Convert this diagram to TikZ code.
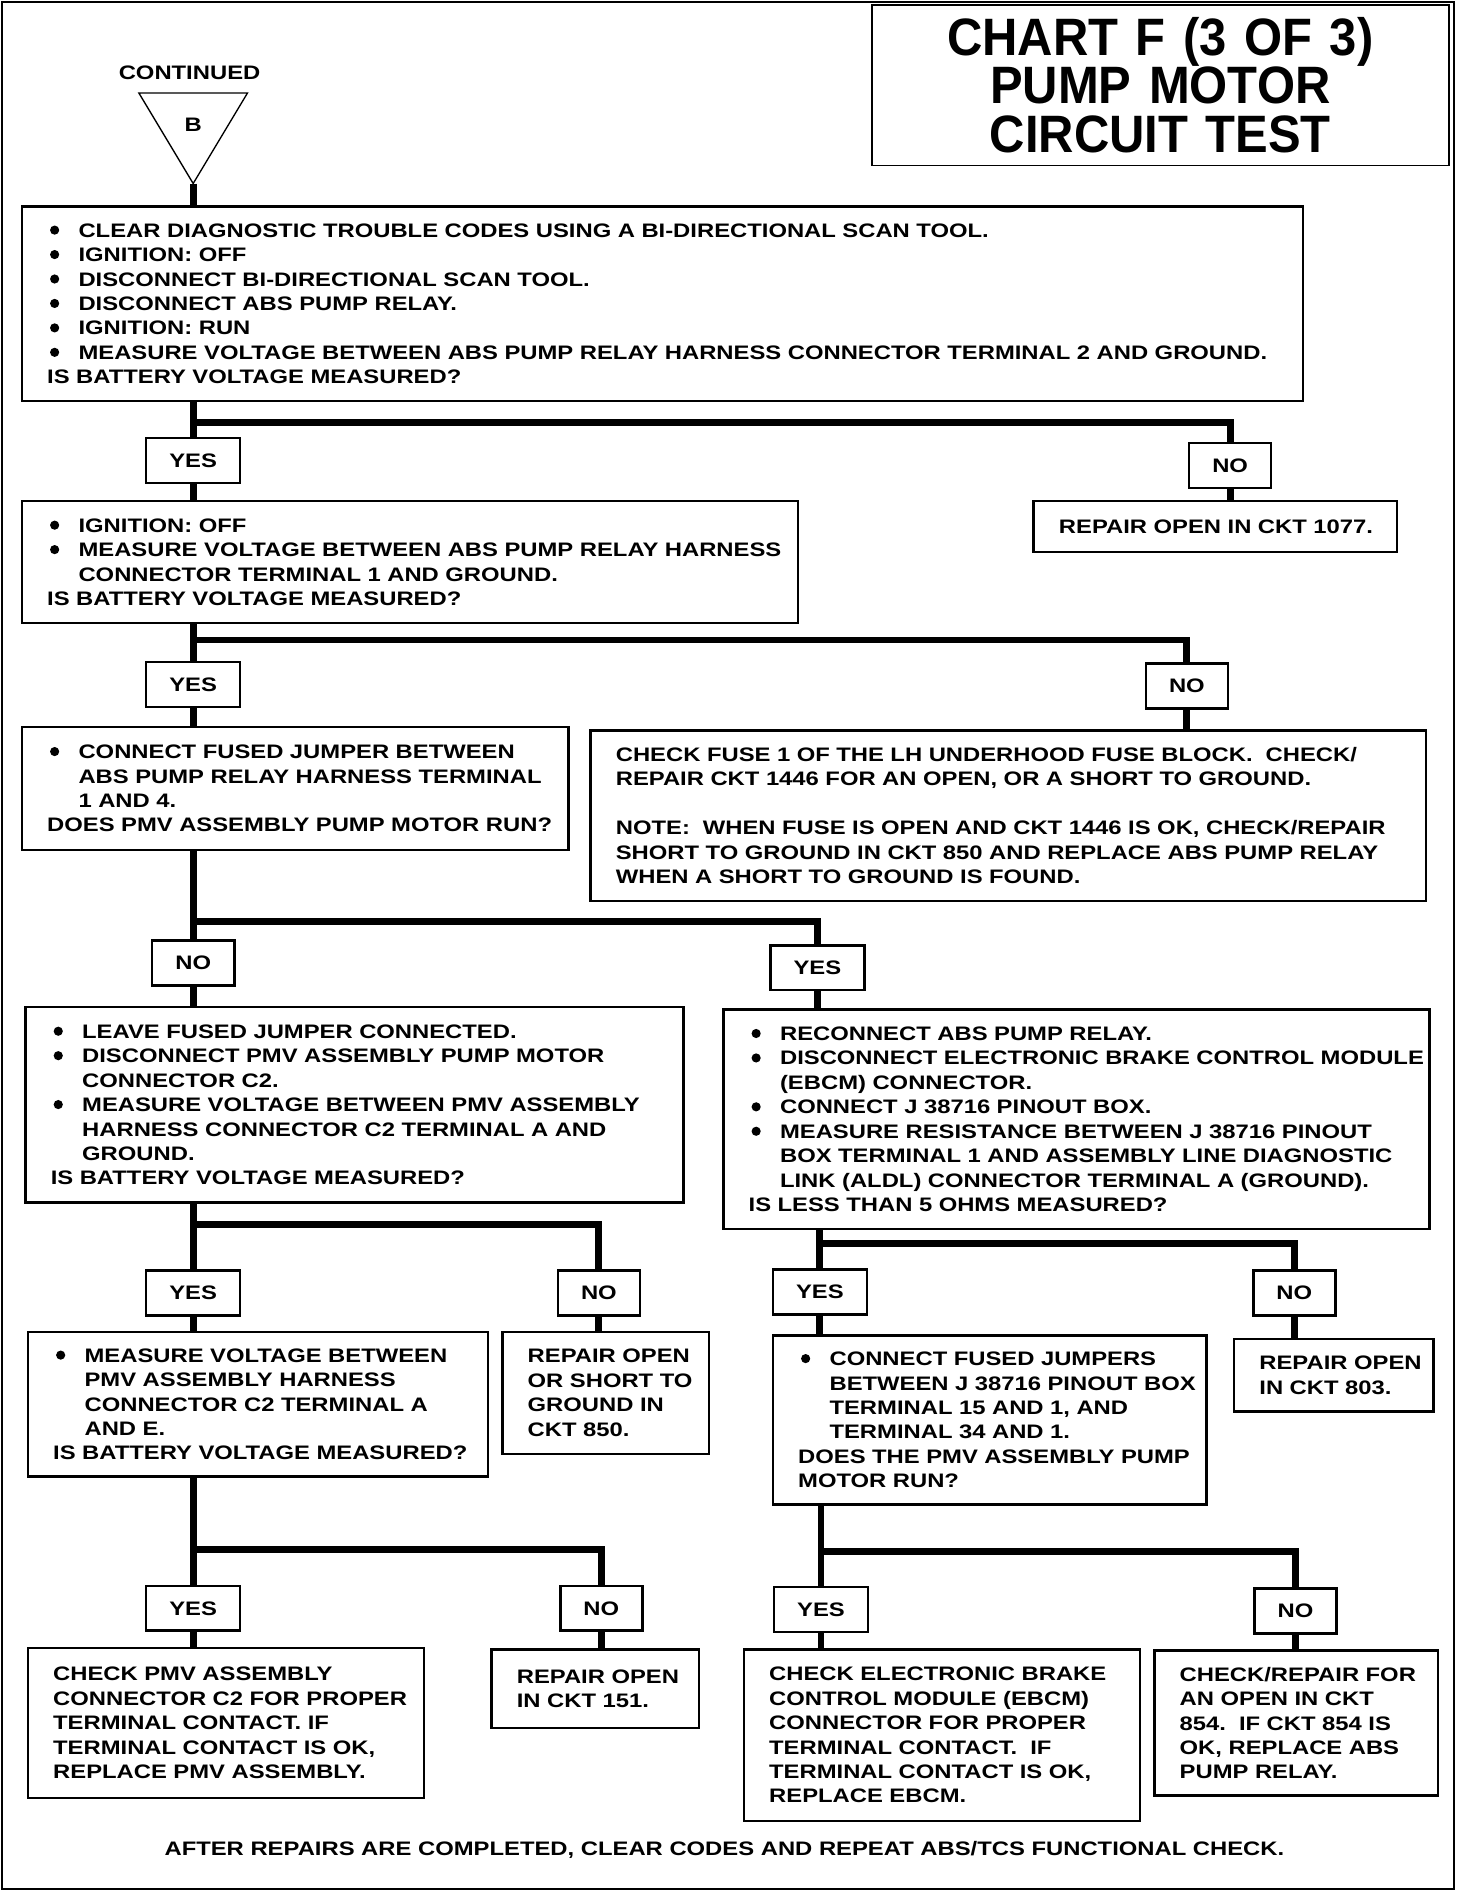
\documentclass[tikz,border=0pt]{standalone}
\usepackage{fontspec}
\newfontfamily\chartfont[FakeStretch=1.22]{Liberation Sans}
\newfontfamily\headfont[FakeStretch=0.93]{Liberation Sans}
\newcommand\bul{\hangindent=0.65cm\hangafter=1\makebox[0.65cm][l]{\hspace{0.06cm}\tikz[baseline=0pt]\fill (0.095cm,0.145cm) circle (0.095cm);}}

\begin{document}
\begin{tikzpicture}[
    box/.style={draw, line width=1.5pt, anchor=north west, inner sep=0pt, text width=#1,
      font=\chartfont\bfseries\fontsize{11.5}{14.4}\selectfont,
      execute at begin node={\leftskip=0.525cm\rightskip=-3cm plus 1fil}},
    answer/.style={draw, line width=1.5pt, minimum height=0.93cm, inner xsep=0.48cm,
      font=\chartfont\bfseries\fontsize{11.5}{14.4}\selectfont},
    link/.style={line width=4pt},
    plain/.style={font=\chartfont\bfseries\fontsize{11.5}{14.4}\selectfont}
  ]
	    \useasboundingbox (0,0) rectangle (30.15,-39.175);
	    \draw[line width=1.2pt] (0.05,-0.05) rectangle (30.1,-39.12);

	    \node[draw, line width=1pt, inner sep=0pt, text width=11.95cm, minimum height=3.325cm, align=center,
	      font=\headfont\bfseries\fontsize{31}{28.6}\selectfont,
	      execute at begin node={\lineskiplimit=-20pt}]
	      (title) at (24.025,-1.7625) {CHART F (3 OF 3)\\PUMP MOTOR\\CIRCUIT TEST};

	    % entry point B
	    \node[plain] (cont) at (3.925,-1.5) {CONTINUED};
	    \coordinate (tl) at (2.875,-1.925);
	    \coordinate (tr) at (5.125,-1.925);
	    \coordinate (apex) at (4.0,-3.8);
	    \draw[line width=0.8pt] (tl) -- (tr) -- (apex) -- cycle;
	    \node[plain] (B) at (4.0,-2.575) {B};

	    \node[box=26.525cm, minimum height=4.025cm] (clr) at (0.425,-4.25) {%
	      \bul CLEAR DIAGNOSTIC TROUBLE CODES USING A BI-DIRECTIONAL SCAN TOOL.\par
	      \bul IGNITION: OFF\par
	      \bul DISCONNECT BI-DIRECTIONAL SCAN TOOL.\par
	      \bul DISCONNECT ABS PUMP RELAY.\par
	      \bul IGNITION: RUN\par
	      \bul MEASURE VOLTAGE BETWEEN ABS PUMP RELAY HARNESS CONNECTOR TERMINAL 2 AND GROUND.\par
	      IS BATTERY VOLTAGE MEASURED?};

	    \node[answer] (yesA) at (4.0,-9.5375) {YES};
	    \node[answer] (noA) at (25.47,-9.6375) {NO};
	    \coordinate (jA) at (4.0,-8.75);

	    \node[box=16.075cm, minimum height=2.525cm] (ign) at (0.425,-10.35) {%
	      \bul IGNITION: OFF\par
	      \bul MEASURE VOLTAGE BETWEEN ABS PUMP RELAY HARNESS\newline CONNECTOR TERMINAL 1 AND GROUND.\par
	      IS BATTERY VOLTAGE MEASURED?};
	    \node[box=7.525cm, minimum height=1.05cm] (r1077) at (21.375,-10.35) {REPAIR OPEN IN CKT 1077.};

	    \node[answer] (yesB) at (4.0,-14.175) {YES};
	    \node[answer] (noB) at (24.575,-14.2) {NO};
	    \coordinate (jB) at (4.0,-13.25);

	    \node[box=11.325cm, minimum height=2.55cm] (jmp) at (0.425,-15.025) {%
	      \bul CONNECT FUSED JUMPER BETWEEN\newline ABS PUMP RELAY HARNESS TERMINAL\newline 1 AND 4.\par
	      DOES PMV ASSEMBLY PUMP MOTOR RUN?};
	    \node[box=17.3cm, minimum height=3.525cm] (fuse) at (12.2,-15.1) {%
	      CHECK FUSE 1 OF THE LH UNDERHOOD FUSE BLOCK.\ \ CHECK/\newline
	      REPAIR CKT 1446 FOR AN OPEN, OR A SHORT TO GROUND.\par\vskip\baselineskip
	      NOTE:\ \ WHEN FUSE IS OPEN AND CKT 1446 IS OK, CHECK/REPAIR\newline
	      SHORT TO GROUND IN CKT 850 AND REPLACE ABS PUMP RELAY\newline
	      WHEN A SHORT TO GROUND IS FOUND.};

	    \node[answer] (noC) at (4.0,-19.9375) {NO};
	    \node[answer] (yesC) at (16.925,-20.0375) {YES};
	    \coordinate (jC) at (4.0,-19.075);

	    \node[box=13.625cm, minimum height=4.05cm] (leave) at (0.5,-20.825) {%
	      \bul LEAVE FUSED JUMPER CONNECTED.\par
	      \bul DISCONNECT PMV ASSEMBLY PUMP MOTOR\newline CONNECTOR C2.\par
	      \bul MEASURE VOLTAGE BETWEEN PMV ASSEMBLY\newline HARNESS CONNECTOR C2 TERMINAL A AND\newline GROUND.\par
	      IS BATTERY VOLTAGE MEASURED?};
	    \node[box=14.625cm, minimum height=4.55cm] (recon) at (14.95,-20.875) {%
	      \bul RECONNECT ABS PUMP RELAY.\par
	      \bul DISCONNECT ELECTRONIC BRAKE CONTROL MODULE\newline (EBCM) CONNECTOR.\par
	      \bul CONNECT J 38716 PINOUT BOX.\par
	      \bul MEASURE RESISTANCE BETWEEN J 38716 PINOUT\newline BOX TERMINAL 1 AND ASSEMBLY LINE DIAGNOSTIC\newline LINK (ALDL) CONNECTOR TERMINAL A (GROUND).\par
	      IS LESS THAN 5 OHMS MEASURED?};

	    \node[answer] (yesD) at (4.0,-26.775) {YES};
	    \node[answer] (noD) at (12.4,-26.775) {NO};
	    \coordinate (jD) at (4.0,-25.35);
	    \node[answer] (yesE) at (16.975,-26.75) {YES};
	    \node[answer] (noE) at (26.8,-26.775) {NO};
	    \coordinate (jE) at (16.975,-25.75);

	    \node[box=9.525cm, minimum height=3.0cm] (meas) at (0.55,-27.55) {%
	      \bul MEASURE VOLTAGE BETWEEN\newline PMV ASSEMBLY HARNESS\newline CONNECTOR C2 TERMINAL A\newline AND E.\par
	      IS BATTERY VOLTAGE MEASURED?};
	    \node[box=4.275cm, minimum height=2.525cm] (r850) at (10.375,-27.55) {%
	      REPAIR OPEN\newline OR SHORT TO\newline GROUND IN\newline CKT 850.};
	    \node[box=8.975cm, minimum height=3.5cm] (jmps) at (15.975,-27.625) {%
	      \bul CONNECT FUSED JUMPERS\newline BETWEEN J 38716 PINOUT BOX\newline TERMINAL 15 AND 1, AND\newline TERMINAL 34 AND 1.\par
	      DOES THE PMV ASSEMBLY PUMP\newline MOTOR RUN?};
	    \node[box=4.125cm, minimum height=1.5cm] (r803) at (25.525,-27.7) {%
	      REPAIR OPEN\newline IN CKT 803.};

	    \node[answer] (yesF) at (4.0,-33.3) {YES};
	    \node[answer] (noF) at (12.45,-33.3) {NO};
	    \coordinate (jF) at (4.0,-32.075);
	    \node[answer] (yesG) at (17.0,-33.325) {YES};
	    \node[answer] (noG) at (26.825,-33.36) {NO};
	    \coordinate (jG) at (17.0,-32.125);

	    \node[box=8.2cm, minimum height=3.1cm] (pmv) at (0.55,-34.1) {%
	      CHECK PMV ASSEMBLY\newline CONNECTOR C2 FOR PROPER\newline TERMINAL CONTACT. IF\newline
	      TERMINAL CONTACT IS OK,\newline REPLACE PMV ASSEMBLY.};
	    \node[box=4.3cm, minimum height=1.625cm] (r151) at (10.15,-34.125) {%
	      REPAIR OPEN\newline IN CKT 151.};
	    \node[box=8.2cm, minimum height=3.55cm] (ebcm) at (15.375,-34.125) {%
	      CHECK ELECTRONIC BRAKE\newline CONTROL MODULE (EBCM)\newline CONNECTOR FOR PROPER\newline
	      TERMINAL CONTACT.\ \ IF\newline TERMINAL CONTACT IS OK,\newline REPLACE EBCM.};
	    \node[box=5.875cm, minimum height=3.0cm] (r854) at (23.875,-34.15) {%
	      CHECK/REPAIR FOR\newline AN OPEN IN CKT\newline 854.\ \ IF CKT 854 IS\newline
	      OK, REPLACE ABS\newline PUMP RELAY.};

	    \node[plain] (after) at (15.0,-38.3)
	      {AFTER REPAIRS ARE COMPLETED, CLEAR CODES AND REPEAT ABS/TCS FUNCTIONAL CHECK.};

	    % connectors
	    \draw[link] (apex) -- (apex |- clr.north);
	    \draw[link] (yesA |- clr.south) -- (yesA.north);
	    \draw[link] (jA) -| (noA.north);
	    \draw[link] (yesA.south) -- (yesA |- ign.north);
	    \draw[link] (noA.south) -- (noA |- r1077.north);

	    \draw[link] (yesB |- ign.south) -- (yesB.north);
	    \draw[link] (jB) -| (noB.north);
	    \draw[link] (yesB.south) -- (yesB |- jmp.north);
	    \draw[link] (noB.south) -- (noB |- fuse.north);

	    \draw[link] (noC |- jmp.south) -- (noC.north);
	    \draw[link] (jC) -| (yesC.north);
	    \draw[link] (noC.south) -- (noC |- leave.north);
	    \draw[link] (yesC.south) -- (yesC |- recon.north);

	    \draw[link] (yesD |- leave.south) -- (yesD.north);
	    \draw[link] (jD) -| (noD.north);
	    \draw[link] (yesD.south) -- (yesD |- meas.north);
	    \draw[link] (noD.south) -- (noD |- r850.north);

	    \draw[link] (yesE |- recon.south) -- (yesE.north);
	    \draw[link] (jE) -| (noE.north);
	    \draw[link] (yesE.south) -- (yesE |- jmps.north);
	    \draw[link] (noE.south) -- (noE |- r803.north);

	    \draw[link] (yesF |- meas.south) -- (yesF.north);
	    \draw[link] (jF) -| (noF.north);
	    \draw[link] (yesF.south) -- (yesF |- pmv.north);
	    \draw[link] (noF.south) -- (noF |- r151.north);

	    \draw[link] (yesG |- jmps.south) -- (yesG.north);
	    \draw[link] (jG) -| (noG.north);
	    \draw[link] (yesG.south) -- (yesG |- ebcm.north);
	    \draw[link] (noG.south) -- (noG |- r854.north);
\end{tikzpicture}
\end{document}
